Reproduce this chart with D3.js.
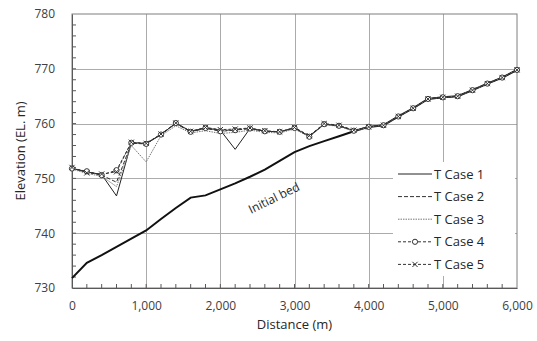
<!DOCTYPE html>
<html>
<head>
<meta charset="utf-8">
<script src="https://cdn.jsdelivr.net/npm/d3@7"></script>
<style>
  body { margin: 0; background: #fff; }
  text { font-family: "Open Sans", "Noto Sans", sans-serif; }
</style>
</head>
<body>
<svg id="chart" width="537" height="341"></svg>
<script>
const distances = [0, 200, 400, 600, 800, 1000, 1200, 1400, 1600, 1800, 2000, 2200, 2400, 2600, 2800, 3000,
  3200, 3400, 3600, 3800, 4000, 4200, 4400, 4600, 4800, 5000, 5200, 5400, 5600, 5800, 6000];

const initialBed = [731.8, 734.6, 736.0, 737.5, 739.0, 740.5, 742.6, 744.6, 746.5, 746.9, 748.0, 749.1, 750.3,
  751.6, 753.2, 754.8, 755.9, 756.8, 757.7, 758.6, 759.4, 759.7, 761.3, 762.8, 764.5, 764.8, 765.0, 766.1,
  767.3, 768.4, 769.8];

const case1 = [751.8, 751.2, 750.7, 746.8, 756.5, 756.4, 758.0, 760.1, 758.6, 759.2, 758.8, 755.3, 759.1,
  758.6, 758.5, 759.2, 757.7, 759.9, 759.6, 758.7, 759.4, 759.7, 761.3, 762.8, 764.5, 764.8, 765.0, 766.1,
  767.3, 768.4, 769.8];
const case2 = [751.9, 751.2, 750.6, 749.3, 756.4, 756.3, 758.0, 760.0, 758.5, 759.1, 758.7, 758.9, 759.1,
  758.6, 758.5, 759.2, 757.7, 759.9, 759.6, 758.7, 759.4, 759.7, 761.3, 762.8, 764.5, 764.8, 765.0, 766.1,
  767.3, 768.4, 769.8];
const case3 = [751.7, 750.9, 750.4, 748.5, 756.0, 753.0, 757.8, 759.6, 758.3, 758.7, 758.2, 758.4, 758.8,
  758.4, 758.3, 759.0, 757.6, 759.8, 759.5, 758.6, 759.4, 759.7, 761.3, 762.8, 764.5, 764.8, 765.0, 766.1,
  767.3, 768.4, 769.8];
const case4 = [751.8, 751.3, 750.6, 751.5, 756.5, 756.3, 758.0, 760.1, 758.5, 759.2, 758.6, 758.8, 759.1,
  758.6, 758.5, 759.2, 757.6, 759.9, 759.6, 758.7, 759.4, 759.7, 761.3, 762.8, 764.5, 764.8, 765.0, 766.1,
  767.3, 768.4, 769.8];
const case5 = [752.0, 751.0, 750.8, 751.2, 756.6, 756.4, 758.1, 760.1, 758.6, 759.3, 758.9, 759.0, 759.2,
  758.7, 758.5, 759.3, 757.8, 760.0, 759.7, 758.8, 759.4, 759.7, 761.3, 762.8, 764.5, 764.8, 765.0, 766.1,
  767.3, 768.4, 769.8];

const seriesNames = ["T Case 1", "T Case 2", "T Case 3", "T Case 4", "T Case 5"];
const xTicks = [0, 1000, 2000, 3000, 4000, 5000, 6000];
const yTicks = [730, 740, 750, 760, 770, 780];

const margin = { top: 14, right: 20, bottom: 53, left: 72 };
const width = 537, height = 341;

const svg = d3.select("#chart");

const x = d3.scaleLinear().domain([0, 6000]).range([margin.left, width - margin.right]);
const y = d3.scaleLinear().domain([730, 780]).range([height - margin.bottom, margin.top]);

// grid
const grid = svg.append("g").attr("stroke", "#ababab").attr("stroke-width", 1);
grid.selectAll(".vx").data(xTicks.slice(1, -1)).join("line")
  .attr("x1", d => Math.round(x(d)) + 0.5).attr("x2", d => Math.round(x(d)) + 0.5)
  .attr("y1", y(780)).attr("y2", y(730));
grid.selectAll(".hy").data(yTicks.slice(1, -1)).join("line")
  .attr("y1", d => Math.round(y(d)) + 0.5).attr("y2", d => Math.round(y(d)) + 0.5)
  .attr("x1", x(0)).attr("x2", x(6000));

// frame
svg.append("rect")
  .attr("x", x(0)).attr("y", y(780))
  .attr("width", x(6000) - x(0)).attr("height", y(730) - y(780))
  .attr("fill", "none").attr("stroke", "#7f7f7f");

// axes
const xAxis = d3.axisBottom(x).tickValues(xTicks).tickSize(0).tickPadding(13)
  .tickFormat(d3.format(","));
svg.append("g").attr("transform", `translate(0,${y(730)})`).call(xAxis)
  .call(g => g.select(".domain").attr("stroke", "#595959"))
  .call(g => g.selectAll("text").attr("font-size", 12).attr("fill", "#404040"));

const yAxis = d3.axisLeft(y).tickValues(yTicks).tickSize(0).tickPadding(17);
svg.append("g").attr("transform", `translate(${x(0)},0)`).call(yAxis)
  .call(g => g.select(".domain").attr("stroke", "#595959"))
  .call(g => g.selectAll("text").attr("font-size", 12).attr("fill", "#404040"));

// minor ticks (inside)
svg.append("g").selectAll("line").data(d3.range(200, 6000, 200)).join("line")
  .attr("x1", d => x(d)).attr("x2", d => x(d))
  .attr("y1", y(730)).attr("y2", y(730) - 4)
  .attr("stroke", "#595959");
svg.append("g").selectAll("line").data(d3.range(732, 780, 2)).join("line")
  .attr("y1", d => y(d)).attr("y2", d => y(d))
  .attr("x1", x(0)).attr("x2", x(0) + 4)
  .attr("stroke", "#595959");

// axis titles
svg.append("text").attr("x", (x(0) + x(6000)) / 2).attr("y", 329)
  .attr("text-anchor", "middle").attr("font-size", 13).attr("fill", "#262626")
  .text("Distance (m)");
svg.append("text").attr("transform", `translate(25,${(y(730) + y(780)) / 2}) rotate(-90)`)
  .attr("text-anchor", "middle").attr("font-size", 13).attr("fill", "#262626")
  .text("Elevation (EL. m)");

const line = d3.line().x((d, i) => x(distances[i])).y(d => y(d));

// initial bed
svg.append("path").datum(initialBed).attr("d", line)
  .attr("fill", "none").attr("stroke", "#111").attr("stroke-width", 2);

const styles = [
  { color: "#222", dash: null, width: 1 },
  { color: "#333", dash: "4,2", width: 1 },
  { color: "#777", dash: "1.5,1", width: 1 },
  { color: "#333", dash: "3,2", width: 1, marker: "circle" },
  { color: "#333", dash: "3,2", width: 1, marker: "cross" }
];
const cases = [case1, case2, case3, case4, case5];

cases.forEach((vals, k) => {
  const s = styles[k];
  svg.append("path").datum(vals).attr("d", line)
    .attr("fill", "none").attr("stroke", s.color)
    .attr("stroke-width", s.width).attr("stroke-dasharray", s.dash);
});

const drawMarker = (g, kind, cx, cy) => {
  if (kind === "circle") {
    g.append("circle").attr("cx", cx).attr("cy", cy).attr("r", 2.6)
      .attr("fill", "#fff").attr("stroke", "#333").attr("stroke-width", 1);
  } else if (kind === "cross") {
    g.append("path")
      .attr("d", `M${cx - 2.6},${cy - 2.6}L${cx + 2.6},${cy + 2.6}M${cx - 2.6},${cy + 2.6}L${cx + 2.6},${cy - 2.6}`)
      .attr("stroke", "#333").attr("stroke-width", 1);
  }
};

const markers = svg.append("g");
cases.forEach((vals, k) => {
  if (!styles[k].marker) return;
  vals.forEach((v, i) => drawMarker(markers, styles[k].marker, x(distances[i]), y(v)));
});

// initial bed label
svg.append("text").attr("transform", "translate(274,198) rotate(-26)")
  .attr("text-anchor", "middle").attr("font-size", 12).attr("fill", "#262626")
  .attr("dy", "0.35em")
  .text("Initial bed");

// legend
const legend = svg.append("g");
legend.append("rect").attr("x", 393).attr("y", 162).attr("width", 122).attr("height", 114)
  .attr("fill", "#fff");
seriesNames.forEach((name, k) => {
  const s = styles[k];
  const ly = 174 + k * 22.6;
  legend.append("line").attr("x1", 398).attr("x2", 432).attr("y1", ly).attr("y2", ly)
    .attr("stroke", s.color).attr("stroke-width", s.width).attr("stroke-dasharray", s.dash);
  if (s.marker) drawMarker(legend, s.marker, 415, ly);
  legend.append("text").attr("x", 434).attr("y", ly).attr("dy", "0.35em")
    .attr("font-size", 13).attr("fill", "#262626").text(name);
});
</script>
</body>
</html>
